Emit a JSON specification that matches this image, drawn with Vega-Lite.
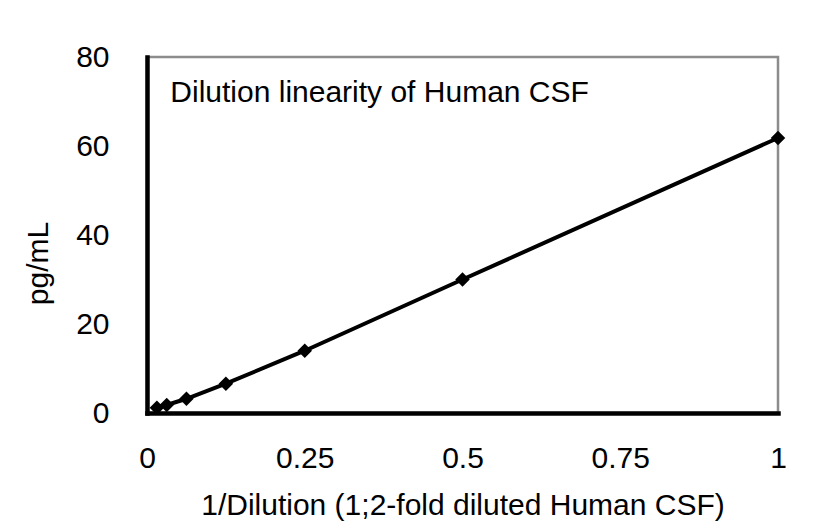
{
  "$schema": "https://vega.github.io/schema/vega-lite/v6.json",
  "width": 631,
  "height": 356,
  "autosize": {"type": "none"},
  "padding": {"left": 147, "top": 57, "right": 42, "bottom": 118},
  "background": "white",
  "config": {
    "view": {"stroke": "#8c8c8c", "strokeWidth": 2.5},
    "font": "Liberation Sans",
    "axisX": {
      "grid": false,
      "ticks": false,
      "tickSize": 0,
      "domainColor": "black",
      "domainWidth": 4.5,
      "domainCap": "square",
      "labelFont": "Liberation Sans",
      "labelFontSize": 30,
      "labelColor": "black",
      "labelPadding": 30,
      "labelFlush": false,
      "labelOverlap": false,
      "titleFont": "Liberation Sans",
      "titleFontSize": 30,
      "titleFontWeight": "normal",
      "titleColor": "black",
      "titleBaseline": "alphabetic",
      "titleY": 101
    },
    "axisY": {
      "grid": false,
      "ticks": false,
      "tickSize": 0,
      "domainColor": "black",
      "domainWidth": 4.5,
      "domainCap": "square",
      "labelFont": "Liberation Sans",
      "labelFontSize": 30,
      "labelColor": "black",
      "labelPadding": 38,
      "labelFlush": false,
      "labelOverlap": false,
      "titleFont": "Liberation Sans",
      "titleFontSize": 30,
      "titleFontWeight": "normal",
      "titleColor": "black",
      "titleAngle": -90,
      "titleBaseline": "alphabetic",
      "titleAlign": "center",
      "titleX": -100,
      "titleY": 206
    }
  },
  "datasets": {
    "points": [
      {"inv_dilution": 0.015625, "pgml": 1.2},
      {"inv_dilution": 0.03125, "pgml": 1.8},
      {"inv_dilution": 0.0625, "pgml": 3.2},
      {"inv_dilution": 0.125, "pgml": 6.6},
      {"inv_dilution": 0.25, "pgml": 14.0},
      {"inv_dilution": 0.5, "pgml": 30.0},
      {"inv_dilution": 1, "pgml": 61.8}
    ],
    "heading": [
      {"label": "Dilution linearity of Human CSF"}
    ]
  },
  "layer": [
    {
      "data": {"name": "points"},
      "mark": {"type": "line", "color": "black", "strokeWidth": 4},
      "encoding": {
        "x": {
          "field": "inv_dilution",
          "type": "quantitative",
          "scale": {"domain": [0, 1], "nice": false, "zero": false},
          "axis": {
            "values": [0, 0.25, 0.5, 0.75, 1],
            "format": ".2~f",
            "title": "1/Dilution (1;2-fold diluted Human CSF)"
          }
        },
        "y": {
          "field": "pgml",
          "type": "quantitative",
          "scale": {"domain": [0, 80], "nice": false},
          "axis": {
            "values": [0, 20, 40, 60, 80],
            "title": "pg/mL"
          }
        }
      }
    },
    {
      "data": {"name": "points"},
      "mark": {"type": "point", "shape": "diamond", "filled": true, "color": "black", "size": 210, "opacity": 1},
      "encoding": {
        "x": {"field": "inv_dilution", "type": "quantitative"},
        "y": {"field": "pgml", "type": "quantitative"}
      }
    },
    {
      "data": {"name": "heading"},
      "mark": {"type": "text", "align": "left", "baseline": "alphabetic", "font": "Liberation Sans", "fontSize": 30, "color": "black"},
      "encoding": {
        "x": {"datum": 0.037, "type": "quantitative"},
        "y": {"datum": 70, "type": "quantitative"},
        "text": {"field": "label", "type": "nominal"}
      }
    }
  ]
}
